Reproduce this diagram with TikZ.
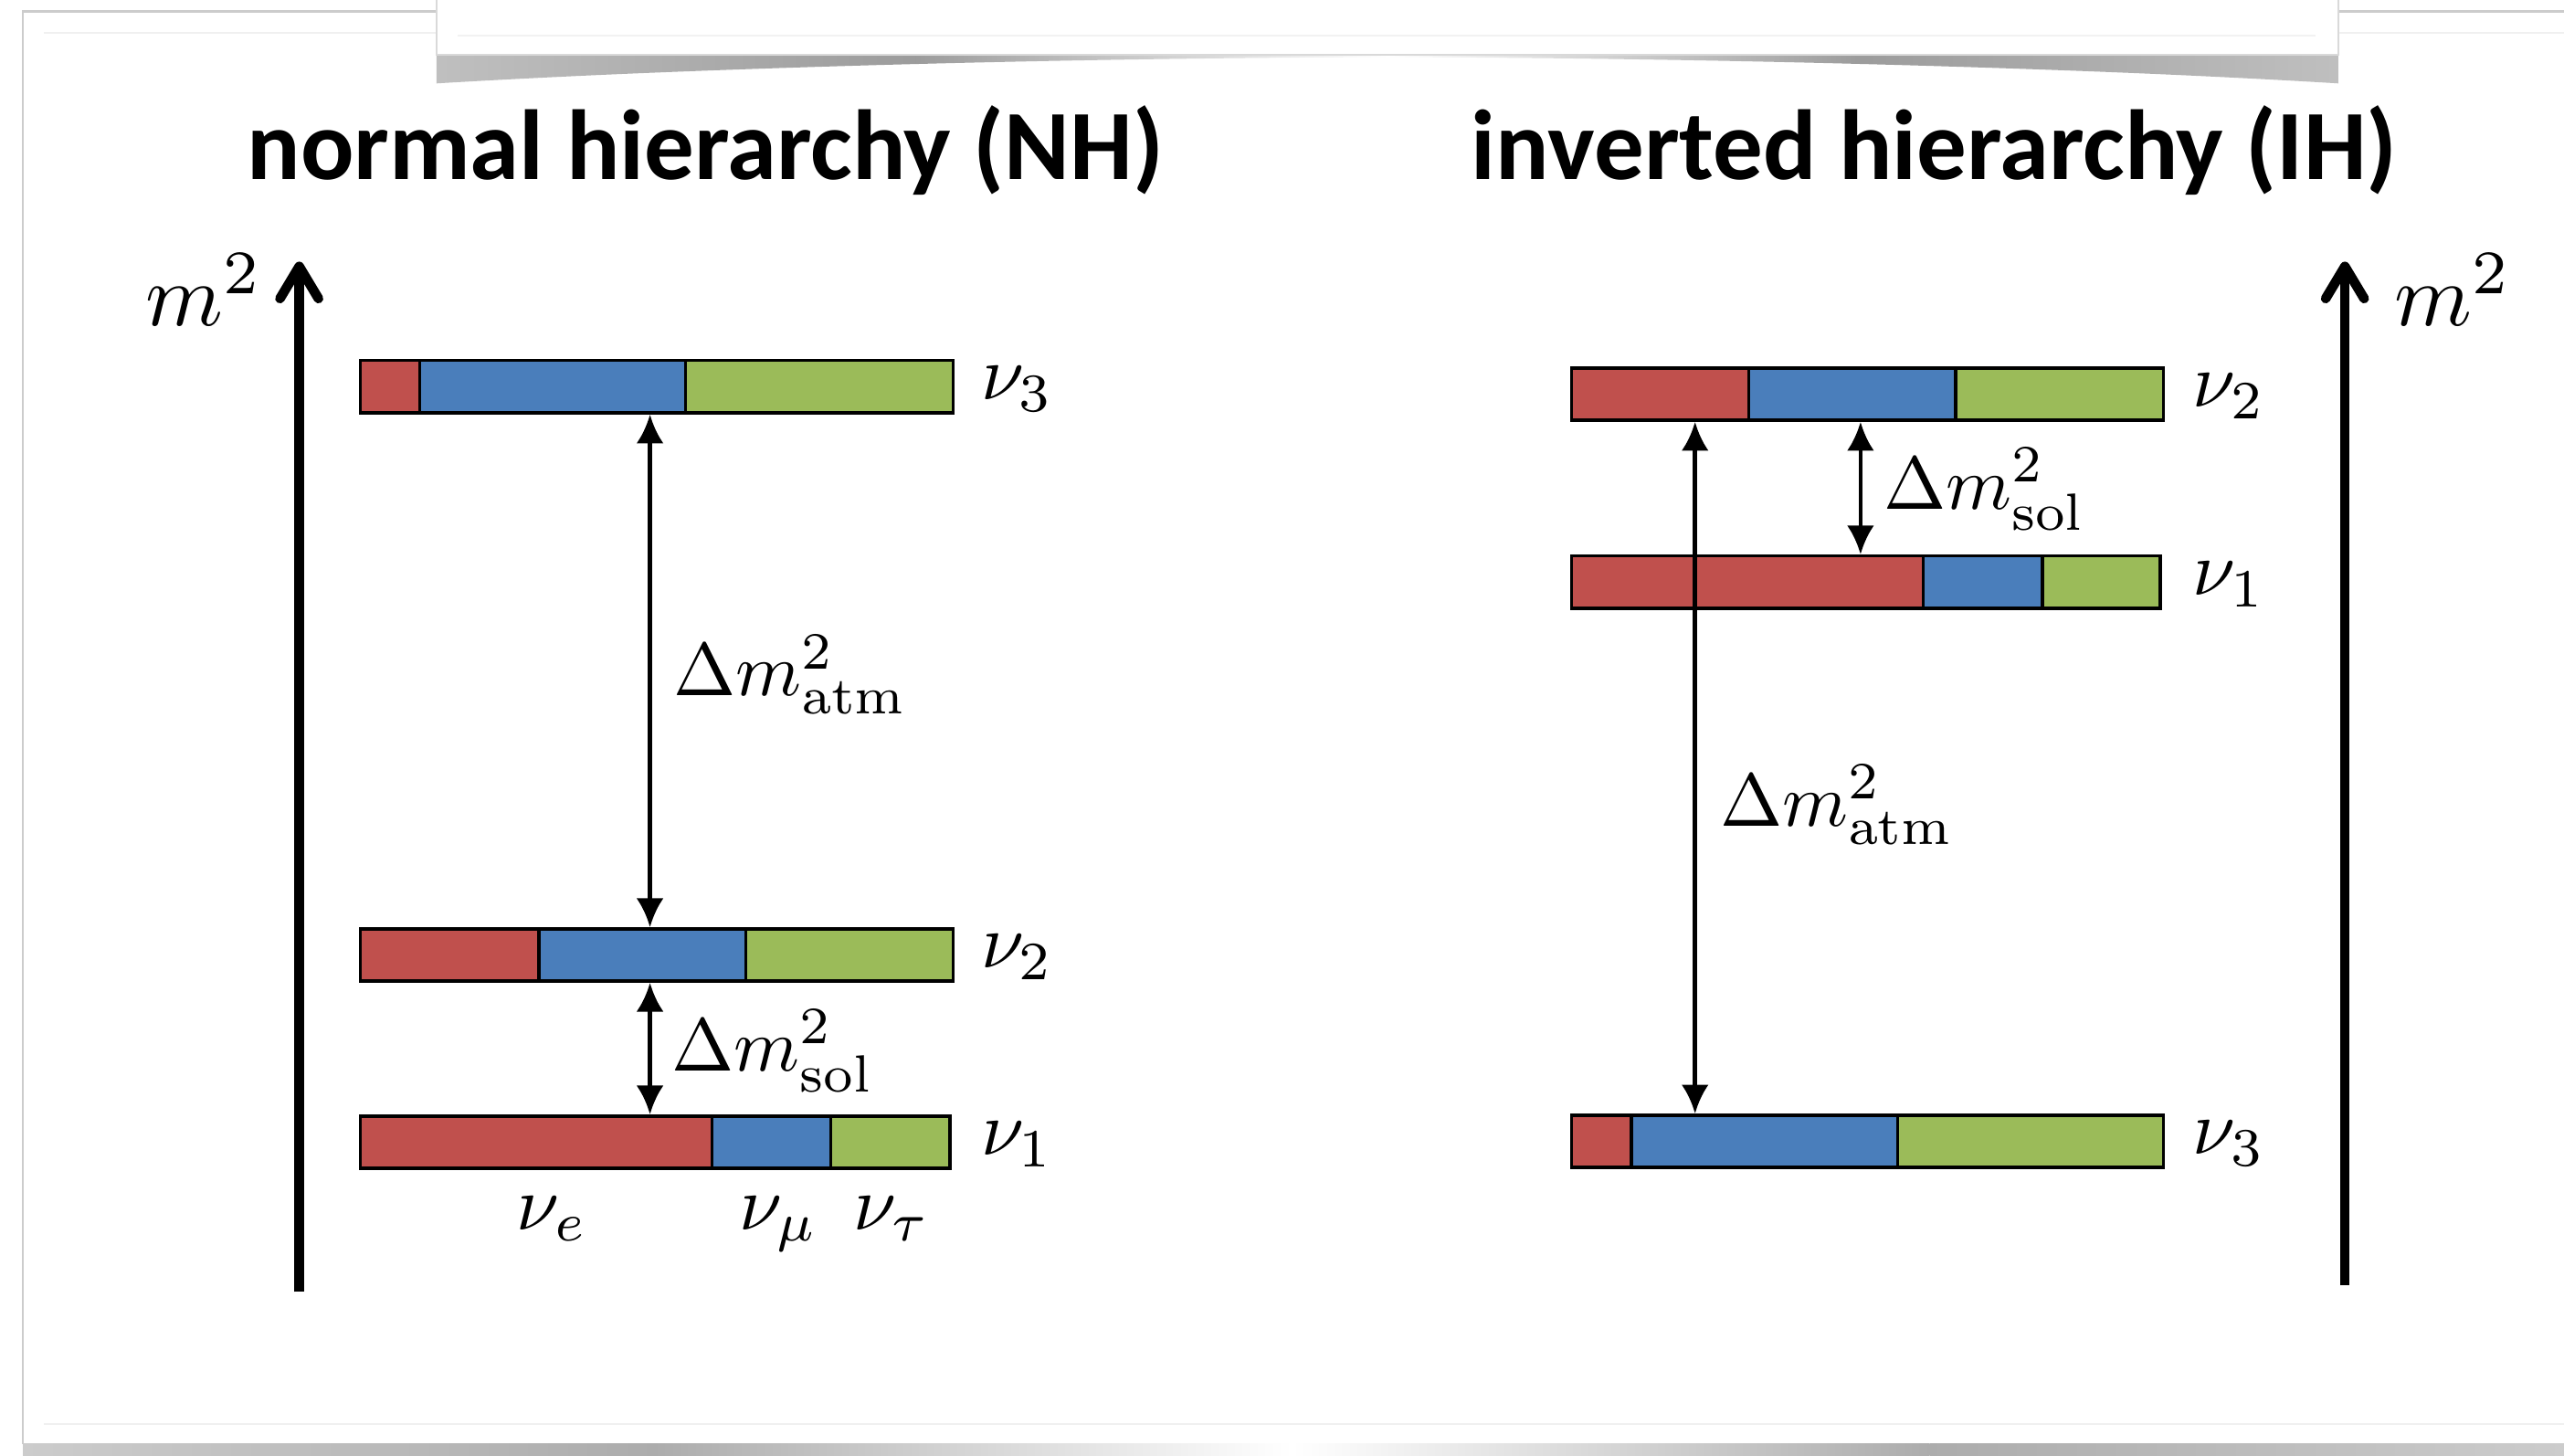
\RequirePackage{fix-cm}
\documentclass[tikz,border=0pt]{standalone}
\usepackage[no-math]{fontspec}
\newfontfamily\titlefont{Carlito}
\usetikzlibrary{arrows.meta,fit}
\definecolor{cred}{HTML}{C0504D}
\definecolor{cblue}{HTML}{4A7EBB}
\definecolor{cgreen}{HTML}{9BBB59}
\tikzset{
  levelbox/.style={draw=black, line width=1pt, inner sep=0pt, rectangle},
  segline/.style={line width=1pt},
  nulab/.style={anchor=base west, inner sep=0pt, scale=2.4, transform shape, font=\fontsize{10}{12}\selectfont},
  dmlab/.style={anchor=base west, inner sep=0pt, scale=2.33, transform shape, font=\fontsize{10}{12}\selectfont},
  mlab/.style={anchor=base west, inner sep=0pt, scale=2.75, transform shape, font=\fontsize{10}{12}\selectfont},
  dbl/.style={line width=1.35pt, {Latex[length=9pt,width=8.5pt]}-{Latex[length=9pt,width=8.5pt]}},
  axisarrow/.style={line width=3pt, -{Straight Barb[length=10pt,width=12pt,round]}},
  titlestyle/.style={anchor=base, inner sep=0pt, font=\titlefont\bfseries\fontsize{31}{37}\selectfont},
}
\newcommand\drawlevel[6]{%
  \fill[cred] (#3,#2) rectangle (#4,#2+32);
  \fill[cblue] (#4,#2) rectangle (#5,#2+32);
  \fill[cgreen] (#5,#2) rectangle (#6,#2+32);
  \draw[segline] (#4,#2) -- (#4,#2+32) (#5,#2) -- (#5,#2+32);
  \coordinate (#1-a) at (#3,#2);
  \coordinate (#1-b) at (#6,#2+32);
  \node[levelbox, fit=(#1-a)(#1-b)] (#1) {};
}
\begin{document}
\begin{tikzpicture}[x=0.017902cm, y=-0.017902cm]
\useasboundingbox (0,0) rectangle (1568,890);
\fill[white] (0,0) rectangle (1568,890);
% outer slide frame
\fill[white] (14,7) rectangle (1575,883);
\draw[gray!40, line width=0.8pt] (14,883) -- (14,7) -- (1575,7);
\draw[gray!12, line width=0.6pt] (27,20) -- (1568,20);
\draw[gray!12, line width=0.6pt] (27,871) -- (1568,871);
\shade[left color=gray!40, right color=gray!65] (14,883) rectangle (400,890);
\shade[left color=gray!65, right color=white] (400,883) rectangle (790,890);
\shade[left color=white, right color=gray!65] (790,883) rectangle (1180,890);
\shade[left color=gray!65, right color=gray!40] (1180,883) rectangle (1568,890);
% top box with curved shadow
\begin{scope}
\clip (267,33.5) -- (1430,33.5) -- (1430,51) .. controls (1250,40) and (1000,35) .. (848.5,35)
      .. controls (700,35) and (450,40) .. (267,51) -- cycle;
\shade[left color=gray!50, right color=gray!78] (267,33) rectangle (560,52);
\shade[left color=gray!78, right color=white] (560,33) rectangle (848.5,52);
\shade[left color=white, right color=gray!78] (848.5,33) rectangle (1137,52);
\shade[left color=gray!78, right color=gray!50] (1137,33) rectangle (1430,52);
\end{scope}
\fill[white] (267,-2) rectangle (1430,33.5);
\draw[gray!30, line width=0.8pt] (267,-2) -- (267,33.5) -- (1430,33.5) -- (1430,-2);
\draw[gray!10, line width=0.6pt] (280,22) -- (1416,22);

% titles
\node[titlestyle] (nhtitle) at (431.5,110) {normal hierarchy (NH)};
\node[titlestyle] (ihtitle) at (1183,110) {inverted hierarchy (IH)};

% axes
\coordinate (axlbot) at (183,790);
\coordinate (axltop) at (183,160);
\coordinate (axrbot) at (1434,786);
\coordinate (axrtop) at (1434,160);
\draw[axisarrow] (axlbot) -- (axltop);
\draw[axisarrow] (axrbot) -- (axrtop);
\node[mlab] (mleft) at (88,199.3) {$m^2$};
\node[mlab] (mright) at (1463.5,199.3) {$m^2$};

% NH levels
\drawlevel{nhthree}{220.5}{220.5}{256.8}{419.3}{583}
\drawlevel{nhtwo}{568}{220.5}{329.6}{456.2}{583}
\drawlevel{nhone}{682.5}{220.5}{435.4}{508.1}{581}
% IH levels
\drawlevel{ihtwo}{225}{961}{1069.5}{1196}{1323}
\drawlevel{ihone}{340}{961}{1176}{1249}{1321}
\drawlevel{ihthree}{682}{961}{997.6}{1160.6}{1323}

% level labels
\node[nulab] (lnhthree) at (599,244.5) {$\nu_3$};
\node[nulab] (lnhtwo) at (599,592) {$\nu_2$};
\node[nulab] (lnhone) at (599,706.5) {$\nu_1$};
\node[nulab] (lihtwo) at (1340,249) {$\nu_2$};
\node[nulab] (lihone) at (1340,364) {$\nu_1$};
\node[nulab] (lihthree) at (1340,706) {$\nu_3$};

% flavour labels
\node[nulab] (fe) at (315,752) {$\nu_e$};
\node[nulab] (fmu) at (451,752) {$\nu_\mu$};
\node[nulab] (ftau) at (521,752) {$\nu_\tau$};

% mass splittings
\coordinate (xa) at (397.5,0);
\coordinate (xb) at (1036.6,0);
\coordinate (xc) at (1137.8,0);
\draw[dbl] (nhthree.south -| xa) -- (nhtwo.north -| xa);
\draw[dbl] (nhtwo.south -| xa) -- (nhone.north -| xa);
\draw[dbl] (ihtwo.south -| xc) -- (ihone.north -| xc);
\draw[dbl] (ihtwo.south -| xb) -- (ihthree.north -| xb);
\node[dmlab] (dmatmnh) at (411,425.5) {$\Delta m^2_{\mathrm{atm}}$};
\node[dmlab] (dmsolnh) at (410,655) {$\Delta m^2_{\mathrm{sol}}$};
\node[dmlab] (dmsolih) at (1151,311.5) {$\Delta m^2_{\mathrm{sol}}$};
\node[dmlab] (dmatmih) at (1051,505) {$\Delta m^2_{\mathrm{atm}}$};
\end{tikzpicture}
\end{document}
